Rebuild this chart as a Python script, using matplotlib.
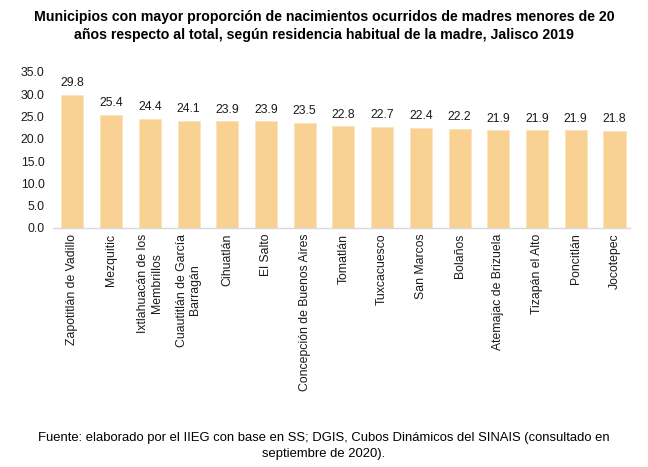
import numpy as np
import matplotlib
matplotlib.use("Agg")
import matplotlib.pyplot as plt

municipios = ["Zapotitlán de Vadillo", "Mezquitic", "Ixtlahuacán de los\nMembrillos",
              "Cuautitlán de García\nBarragán", "Cihuatlán", "El Salto",
              "Concepción de Buenos Aires", "Tomatlán", "Tuxcacuesco", "San Marcos",
              "Bolaños", "Atemajac de Brizuela", "Tizapán el Alto", "Poncitlán", "Jocotepec"]
valores = [29.8, 25.4, 24.4, 24.1, 23.9, 23.9, 23.5, 22.8, 22.7, 22.4, 22.2, 21.9, 21.9, 21.9, 21.8]
yticks = [0, 5, 10, 15, 20, 25, 30, 35]

plt.rcParams['font.family'] = ['Liberation Sans', 'DejaVu Sans']

fig = plt.figure(figsize=(6.48, 4.67), dpi=100)
ax = fig.add_axes([53/648, 1 - 228/467, (630-53)/648, 156/467])

x = np.arange(len(valores))
bars = ax.bar(x, valores, width=0.57, color="#F9D193", edgecolor="#FBE3BC", linewidth=0.6)
for xi, v in zip(x, valores):
    ax.text(xi, v + 1.3, f"{v:.1f}", ha="center", va="bottom", fontsize=8.8, color="#1a1a1a")

ax.set_xlim(-0.5, 14.4)
ax.set_ylim(0, 35)
ax.set_yticks(yticks)
ax.set_yticklabels([f"{t:.1f}" for t in yticks], fontsize=8.8)
ax.set_xticks(x)
ax.set_xticklabels(municipios, rotation=90, ha="center", va="top", multialignment="center",
                   fontsize=8.8)
ax.tick_params(axis="both", length=0, colors="#1a1a1a")
ax.tick_params(axis="y", pad=6)
ax.tick_params(axis="x", pad=4)
for s in ["top", "right", "left"]:
    ax.spines[s].set_visible(False)
ax.spines["bottom"].set_color("#d9d9d9")
ax.spines["bottom"].set_linewidth(1.0)

fig.text(0.5, 1 - 26/467, "Municipios con mayor proporción de nacimientos ocurridos de madres menores de 20\n"
         "años respecto al total, según residencia habitual de la madre, Jalisco 2019",
         ha="center", va="center", fontsize=10.2, fontweight="bold", linespacing=1.3)
fig.text(0.5, 1 - 446/467, "Fuente: elaborado por el IIEG con base en SS; DGIS, Cubos Dinámicos del SINAIS (consultado en\n"
         "septiembre de 2020).", ha="center", va="center", fontsize=9.4, linespacing=1.45)

fig.savefig("out.png", dpi=100)
